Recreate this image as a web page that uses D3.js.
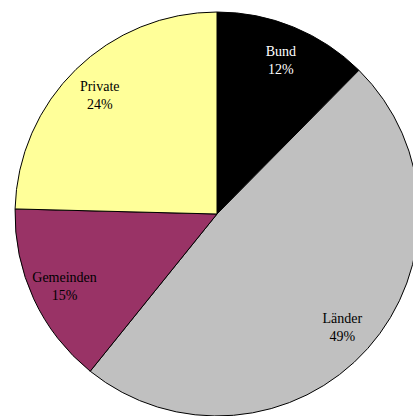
<!DOCTYPE html>
<html>
<head>
<meta charset="utf-8">
<script src="https://cdn.jsdelivr.net/npm/d3@7"></script>
<style>
  body { margin: 0; background: #fff; overflow: hidden; }
</style>
</head>
<body>
<div id="viz"></div>
<script>
var width = 413;
var height = 416;

var categories = ["Bund", "Länder", "Gemeinden", "Private"];
var values = [12.4, 48.4, 14.6, 24.6];
var pctLabels = ["12%", "49%", "15%", "24%"];
var fills = ["#000000", "#c0c0c0", "#993366", "#ffff99"];
var textColors = ["#ffffff", "#000000", "#000000", "#000000"];

var cx = 217, cy = 214, radius = 202;

var svg = d3.select("#viz")
    .append("svg")
    .attr("width", width)
    .attr("height", height);

var pie = d3.pie().sort(null)(values);

var arc = d3.arc()
    .innerRadius(0)
    .outerRadius(radius);

// centroid of this ring sits at ~168px from centre
var labelArc = d3.arc()
    .innerRadius(150)
    .outerRadius(186);

var g = svg.append("g")
    .attr("transform", "translate(" + cx + "," + cy + ")");

g.selectAll("path")
    .data(pie)
    .enter()
    .append("path")
    .attr("d", arc)
    .attr("fill", function(d, i) { return fills[i]; })
    .attr("stroke", "#000")
    .attr("stroke-width", 1);

var labels = g.selectAll("text")
    .data(pie)
    .enter()
    .append("text")
    .attr("transform", function(d) { return "translate(" + labelArc.centroid(d) + ")"; })
    .attr("text-anchor", "middle")
    .attr("font-family", "'Liberation Serif', 'Times New Roman', serif")
    .attr("font-size", "14px")
    .attr("fill", function(d, i) { return textColors[i]; });

labels.append("tspan")
    .attr("x", 0)
    .attr("y", -3)
    .text(function(d, i) { return categories[i]; });

labels.append("tspan")
    .attr("x", 0)
    .attr("y", 15)
    .text(function(d, i) { return pctLabels[i]; });
</script>
</body>
</html>
